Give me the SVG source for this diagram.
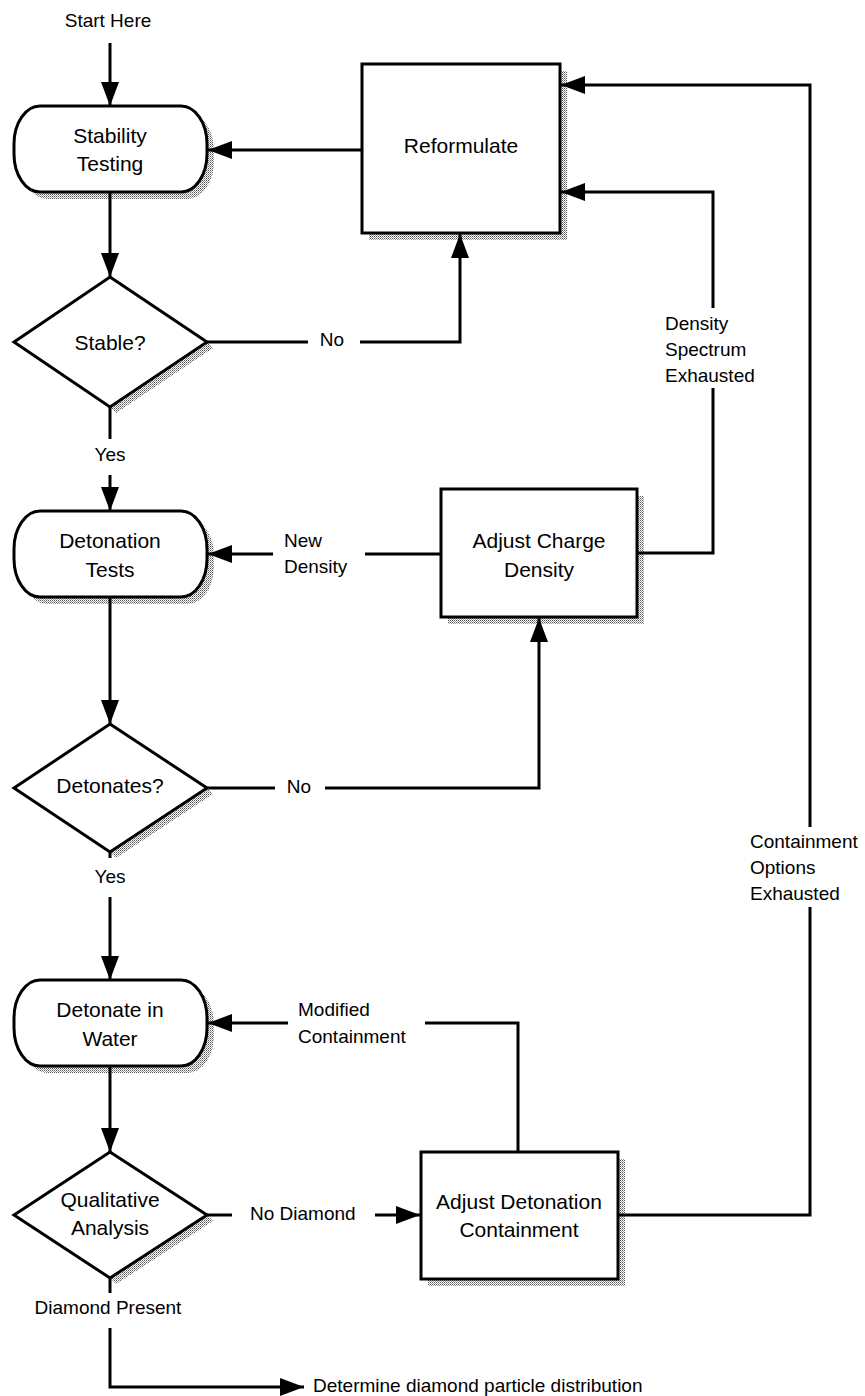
<svg xmlns="http://www.w3.org/2000/svg" width="865" height="1396" viewBox="0 0 865 1396">
<style>
.node{fill:#fff;stroke:#000;stroke-width:3}
.shadow{fill:url(#dots);stroke:none}
.conn{fill:none;stroke:#000;stroke-width:3}
.nt{font-family:"Liberation Sans",Arial,sans-serif;font-size:21px;fill:#000;text-anchor:middle}
.lb{font-family:"Liberation Sans",Arial,sans-serif;font-size:19px;fill:#000}
.c{text-anchor:middle}
</style>
<defs>
<pattern id="dots" width="2" height="2" patternUnits="userSpaceOnUse">
<rect width="2" height="2" fill="#fff"/>
<rect width="1" height="1" fill="#555"/>
<rect x="1" y="1" width="1" height="1" fill="#999"/>
</pattern>
<marker id="ah" markerUnits="userSpaceOnUse" markerWidth="24" markerHeight="18" viewBox="0 0 24 18" refX="24" refY="9" orient="auto">
<path d="M0,0 L24,9 L0,18 z" fill="#000"/>
</marker>
</defs>
<rect width="865" height="1396" fill="#fff"/>

<g id="start-label">
<text class="lb c" x="108" y="27">Start Here</text>
</g>

<g id="stability-testing">
<rect class="shadow" x="21" y="113" width="193" height="86" rx="26" ry="38"/>
<rect class="node" x="14" y="106" width="193" height="86" rx="26" ry="38"/>
<text class="nt" x="110" y="143">Stability</text>
<text class="nt" x="110" y="171">Testing</text>
</g>

<g id="reformulate">
<rect class="shadow" x="369" y="71" width="198" height="169"/>
<rect class="node" x="362" y="64" width="198" height="169"/>
<text class="nt" x="461" y="153">Reformulate</text>
</g>

<g id="stable">
<polygon class="shadow" points="207,342 213,348 116,413 110,407"/>
<polygon class="node" points="110,277 207,342 110,407 14,342"/>
<text class="nt" x="110" y="350">Stable?</text>
</g>

<g id="detonation-tests">
<rect class="shadow" x="21" y="518" width="193" height="86" rx="26" ry="38"/>
<rect class="node" x="14" y="511" width="193" height="86" rx="26" ry="38"/>
<text class="nt" x="110" y="548">Detonation</text>
<text class="nt" x="110" y="577">Tests</text>
</g>

<g id="adjust-charge-density">
<rect class="shadow" x="448" y="496" width="196" height="128"/>
<rect class="node" x="441" y="489" width="196" height="128"/>
<text class="nt" x="539" y="548">Adjust Charge</text>
<text class="nt" x="539" y="577">Density</text>
</g>

<g id="detonates">
<polygon class="shadow" points="207,788 213,794 116,858 110,852"/>
<polygon class="node" points="110,724 207,788 110,852 14,788"/>
<text class="nt" x="110" y="793">Detonates?</text>
</g>

<g id="detonate-in-water">
<rect class="shadow" x="21" y="987" width="193" height="86" rx="26" ry="38"/>
<rect class="node" x="14" y="980" width="193" height="86" rx="26" ry="38"/>
<text class="nt" x="110" y="1017">Detonate in</text>
<text class="nt" x="110" y="1046">Water</text>
</g>

<g id="qualitative-analysis">
<polygon class="shadow" points="207,1215 213,1221 116,1284 110,1278"/>
<polygon class="node" points="110,1152 207,1215 110,1278 14,1215"/>
<text class="nt" x="110" y="1207">Qualitative</text>
<text class="nt" x="110" y="1235">Analysis</text>
</g>

<g id="adjust-detonation-containment">
<rect class="shadow" x="428" y="1159" width="197" height="127"/>
<rect class="node" x="421" y="1152" width="197" height="127"/>
<text class="nt" x="519" y="1209">Adjust Detonation</text>
<text class="nt" x="519" y="1237">Containment</text>
</g>

<g id="connectors">
<path class="conn" d="M110,43 V106" marker-end="url(#ah)"/>
<path class="conn" d="M362,150 H208" marker-end="url(#ah)"/>
<path class="conn" d="M110,192 V277" marker-end="url(#ah)"/>
<path class="conn" d="M207,342 H308"/>
<path class="conn" d="M360,342 H460 V234" marker-end="url(#ah)"/>
<text class="lb c" x="332" y="346">No</text>
<path class="conn" d="M110,406 V439"/>
<text class="lb c" x="110" y="461">Yes</text>
<path class="conn" d="M110,475 V511" marker-end="url(#ah)"/>
<path class="conn" d="M441,554 H365"/>
<path class="conn" d="M273,554 H208" marker-end="url(#ah)"/>
<text class="lb" x="284" y="547">New</text>
<text class="lb" x="284" y="573">Density</text>
<path class="conn" d="M637,553 H713 V388"/>
<path class="conn" d="M713,308 V192 H561" marker-end="url(#ah)"/>
<text class="lb" x="665" y="330">Density</text>
<text class="lb" x="665" y="356">Spectrum</text>
<text class="lb" x="665" y="382">Exhausted</text>
<path class="conn" d="M110,597 V724" marker-end="url(#ah)"/>
<path class="conn" d="M207,788 H275"/>
<path class="conn" d="M325,788 H539 V618" marker-end="url(#ah)"/>
<text class="lb c" x="299" y="793">No</text>
<path class="conn" d="M110,852 V858"/>
<text class="lb c" x="110" y="883">Yes</text>
<path class="conn" d="M110,897 V980" marker-end="url(#ah)"/>
<path class="conn" d="M518,1152 V1023 H425"/>
<path class="conn" d="M288,1023 H208" marker-end="url(#ah)"/>
<text class="lb" x="298" y="1016">Modified</text>
<text class="lb" x="298" y="1043">Containment</text>
<path class="conn" d="M110,1066 V1152" marker-end="url(#ah)"/>
<path class="conn" d="M207,1215 H232"/>
<path class="conn" d="M375,1215 H420" marker-end="url(#ah)"/>
<text class="lb" x="250" y="1220">No Diamond</text>
<path class="conn" d="M618,1215 H810 V907"/>
<path class="conn" d="M810,827 V85 H561" marker-end="url(#ah)"/>
<text class="lb" x="750" y="848">Containment</text>
<text class="lb" x="750" y="874">Options</text>
<text class="lb" x="750" y="900">Exhausted</text>
<path class="conn" d="M110,1278 V1293"/>
<text class="lb c" x="108" y="1314">Diamond Present</text>
<path class="conn" d="M110,1328 V1387 H304" marker-end="url(#ah)"/>
<text class="lb" x="313" y="1392">Determine diamond particle distribution</text>
</g>
</svg>
